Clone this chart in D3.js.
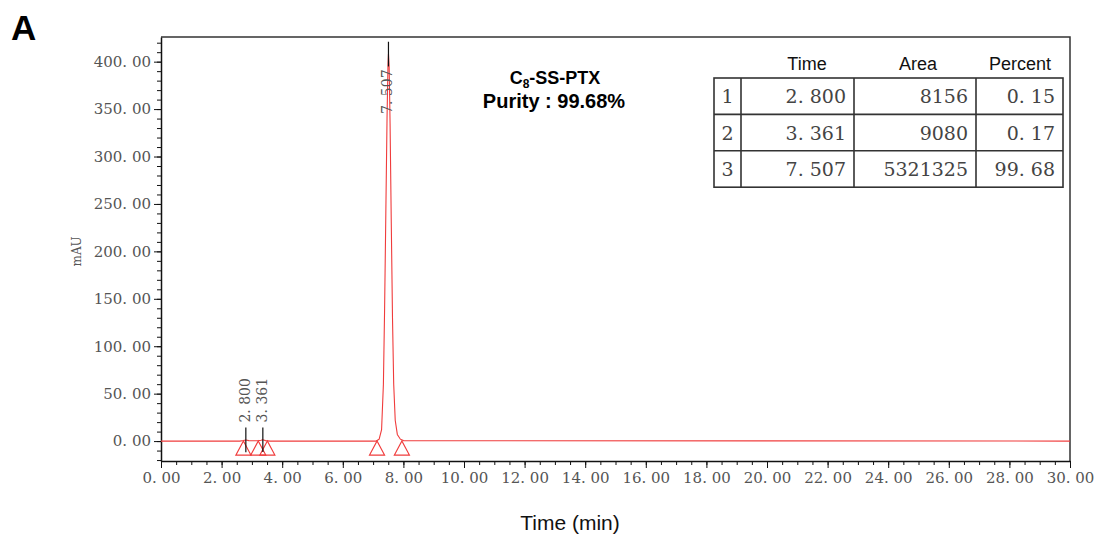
<!DOCTYPE html>
<html>
<head>
<meta charset="utf-8">
<script src="https://d3js.org/d3.v7.min.js"></script>
<style>
  body { margin: 0; background: #fff; }
  .axis text { fill: #555; font-family: "DejaVu Serif", serif; font-size: 15px; }
  .axis path, .axis line { stroke: #111; }
</style>
</head>
<body>
<div id="chart"></div>
<script>
// chromatogram trace (time in min, signal in mAU)
var traceTime   = [0, 2.6, 2.72, 2.8, 2.9, 3.2, 3.3, 3.361, 3.45, 3.6, 7.1, 7.2, 7.28, 7.34, 7.38, 7.42, 7.46, 7.49, 7.507, 7.53, 7.56, 7.6, 7.64, 7.68, 7.73, 7.8, 7.9, 8.0, 30];
var traceSignal = [0, 0, 0.6, 1.2, 0.5, 0.3, 0.8, 1.4, 0.5, 0, 0, 2, 12, 60, 140, 240, 340, 395, 408, 395, 335, 230, 130, 60, 22, 7, 2, 0.5, 0];

// integrated peaks
var peakNo      = [1, 2, 3];
var peakTime    = [2.800, 3.361, 7.507];
var peakHeight  = [1.2, 1.4, 408];
var peakArea    = [8156, 9080, 5321325];
var peakPercent = [0.15, 0.17, 99.68];

// peak start / end markers (triangles on the baseline)
var markTime = [2.72, 3.21, 3.51, 7.13, 7.95];

// axis ticks
var xTicks = [0, 2, 4, 6, 8, 10, 12, 14, 16, 18, 20, 22, 24, 26, 28, 30];
var yTicks = [0, 50, 100, 150, 200, 250, 300, 350, 400];
var tableHeads = ["Time", "Area", "Percent"];

var W = 1099, H = 536;
var plotL = 161, plotR = 1070, plotT = 37, plotB = 461;

// space after the decimal point, like the instrument font
function fmt(v, n) { return v.toFixed(n).replace(".", ". "); }

var svg = d3.select("#chart").append("svg")
    .attr("width", W)
    .attr("height", H)
    .style("background", "#fff");

var x = d3.scaleLinear().domain([0, 30]).range([plotL, plotR]);
var y = d3.scaleLinear().domain([-21, 426]).range([plotB, plotT]);

// panel letter
svg.append("text")
    .attr("x", 11).attr("y", 40)
    .style("font-family", "Liberation Sans, Arial, sans-serif")
    .style("font-weight", "bold")
    .style("font-size", "35px")
    .text("A");

// frame top and right
svg.append("path")
    .attr("d", "M" + plotL + "," + plotT + "H" + plotR + "V" + plotB)
    .attr("fill", "none")
    .attr("stroke", "#333")
    .attr("stroke-width", 1.5);

// minor ticks
svg.append("g")
    .attr("class", "axis")
    .attr("transform", "translate(" + plotL + ",0)")
    .call(d3.axisLeft(y).tickValues(d3.range(-20, 421, 10)).tickSize(4).tickFormat(""))
    .call(function(g) { g.select(".domain").remove(); });

svg.append("g")
    .attr("class", "axis")
    .attr("transform", "translate(0," + plotB + ")")
    .call(d3.axisBottom(x).tickValues(d3.range(0, 30.01, 0.5)).tickSize(4).tickFormat(""))
    .call(function(g) { g.select(".domain").remove(); });

// Y axis
svg.append("g")
    .attr("class", "axis")
    .attr("transform", "translate(" + plotL + ",0)")
    .call(d3.axisLeft(y).tickValues(yTicks).tickSize(7).tickSizeOuter(0).tickPadding(3)
      .tickFormat(function(d) { return fmt(d, 2); }))
    .call(function(g) { g.select(".domain").attr("stroke-width", 1.5); });

// X axis
svg.append("g")
    .attr("class", "axis")
    .attr("transform", "translate(0," + plotB + ")")
    .call(d3.axisBottom(x).tickValues(xTicks).tickSize(7).tickSizeOuter(0).tickPadding(4)
      .tickFormat(function(d) { return fmt(d, 2); }))
    .call(function(g) { g.select(".domain").attr("stroke-width", 1.5); });

// axis titles
svg.append("text")
    .attr("transform", "translate(81," + y(200) + ") rotate(-90)")
    .attr("text-anchor", "middle")
    .style("font-family", "DejaVu Serif, serif")
    .style("font-size", "12px")
    .style("fill", "#555")
    .text("mAU");

svg.append("text")
    .attr("x", 570).attr("y", 530)
    .attr("text-anchor", "middle")
    .style("font-family", "Liberation Sans, Arial, sans-serif")
    .style("font-size", "21px")
    .style("fill", "#111")
    .text("Time (min)");

// trace
var trace = traceTime.map(function(t, i) { return [t, traceSignal[i]]; });
var line = d3.line()
    .x(function(d) { return x(d[0]); })
    .y(function(d) { return y(d[1]); });

svg.append("path")
    .datum(trace)
    .attr("d", line)
    .attr("fill", "none")
    .attr("stroke", "#f03c3c")
    .attr("stroke-width", 1.1);

// start/end triangles
svg.selectAll(".mark")
    .data(markTime)
  .enter().append("path")
    .attr("class", "mark")
    .attr("d", function(t) {
      var cx = x(t), cy = y(0);
      return "M" + cx + "," + cy + "L" + (cx + 7.5) + "," + (cy + 14) + "L" + (cx - 7.5) + "," + (cy + 14) + "Z";
    })
    .attr("fill", "none")
    .attr("stroke", "#f03c3c")
    .attr("stroke-width", 1.2);

// peak apex markers and retention time labels
var peaks = peakTime.map(function(t, i) { return {t: t, h: peakHeight[i]}; });

svg.selectAll(".apex")
    .data(peaks)
  .enter().append("line")
    .attr("class", "apex")
    .attr("x1", function(d) { return x(d.t); })
    .attr("x2", function(d) { return x(d.t); })
    .attr("y1", function(d) { return y(d.h + 13); })
    .attr("y2", function(d) { return y(d.h - 13); })
    .attr("stroke", "#111")
    .attr("stroke-width", 1.2);

svg.selectAll(".rt")
    .data(peaks)
  .enter().append("text")
    .attr("class", "rt")
    .attr("transform", function(d) {
      var yy = d.h > 100 ? y(d.h - 13) + 3 : y(d.h + 13) - 5;
      return "translate(" + (x(d.t) - 1) + "," + yy + ") rotate(-90)";
    })
    .attr("dy", "0.35em")
    .attr("text-anchor", function(d) { return d.h > 100 ? "end" : "start"; })
    .style("font-family", "DejaVu Serif, serif")
    .style("font-size", "14px")
    .style("fill", "#555")
    .text(function(d) { return fmt(d.t, 3); });

// compound name and purity
svg.append("text")
    .attr("x", 555).attr("y", 84)
    .attr("text-anchor", "middle")
    .style("font-family", "Liberation Sans, Arial, sans-serif")
    .style("font-weight", "bold")
    .style("font-size", "18px")
    .call(function(t) {
      t.append("tspan").text("C");
      t.append("tspan").attr("dy", 4).style("font-size", "12px").text("8");
      t.append("tspan").attr("dy", -4).text("-SS-PTX");
    });

svg.append("text")
    .attr("x", 554).attr("y", 108)
    .attr("text-anchor", "middle")
    .style("font-family", "Liberation Sans, Arial, sans-serif")
    .style("font-weight", "bold")
    .style("font-size", "20px")
    .text("Purity : " + peakPercent[2].toFixed(2) + "%");

// results table
var colEdge = [714, 741, 854, 976, 1063];
var headX = [807, 918, 1020];
var rowTop = 78, rowH = 36.4;
var tbl = svg.append("g");

tbl.selectAll(".head")
    .data(tableHeads)
  .enter().append("text")
    .attr("x", function(d, i) { return headX[i]; })
    .attr("y", 70)
    .attr("text-anchor", "middle")
    .style("font-family", "Liberation Sans, Arial, sans-serif")
    .style("font-size", "18px")
    .style("fill", "#111")
    .text(function(d) { return d; });

tbl.append("rect")
    .attr("x", colEdge[0]).attr("y", rowTop)
    .attr("width", colEdge[4] - colEdge[0])
    .attr("height", rowH * peakNo.length)
    .attr("fill", "none")
    .attr("stroke", "#333")
    .attr("stroke-width", 1.6);

colEdge.slice(1, 4).forEach(function(cx) {
  tbl.append("line")
      .attr("x1", cx).attr("x2", cx)
      .attr("y1", rowTop).attr("y2", rowTop + rowH * peakNo.length)
      .attr("stroke", "#333").attr("stroke-width", 1.6);
});
for (var r = 1; r < peakNo.length; r++) {
  tbl.append("line")
      .attr("x1", colEdge[0]).attr("x2", colEdge[4])
      .attr("y1", rowTop + rowH * r).attr("y2", rowTop + rowH * r)
      .attr("stroke", "#333").attr("stroke-width", 1.6);
}

var rows = peakNo.map(function(n, i) {
  return [String(n), fmt(peakTime[i], 3), String(peakArea[i]), fmt(peakPercent[i], 2)];
});

rows.forEach(function(cells, i) {
  var by = rowTop + rowH * i + rowH / 2 + 7;
  cells.forEach(function(c, j) {
    tbl.append("text")
        .attr("x", j === 0 ? (colEdge[0] + colEdge[1]) / 2 : colEdge[j + 1] - 8)
        .attr("y", by)
        .attr("text-anchor", j === 0 ? "middle" : "end")
        .style("font-family", "DejaVu Serif, serif")
        .style("font-size", "19px")
        .style("fill", "#444")
        .text(c);
  });
});
</script>
</body>
</html>
